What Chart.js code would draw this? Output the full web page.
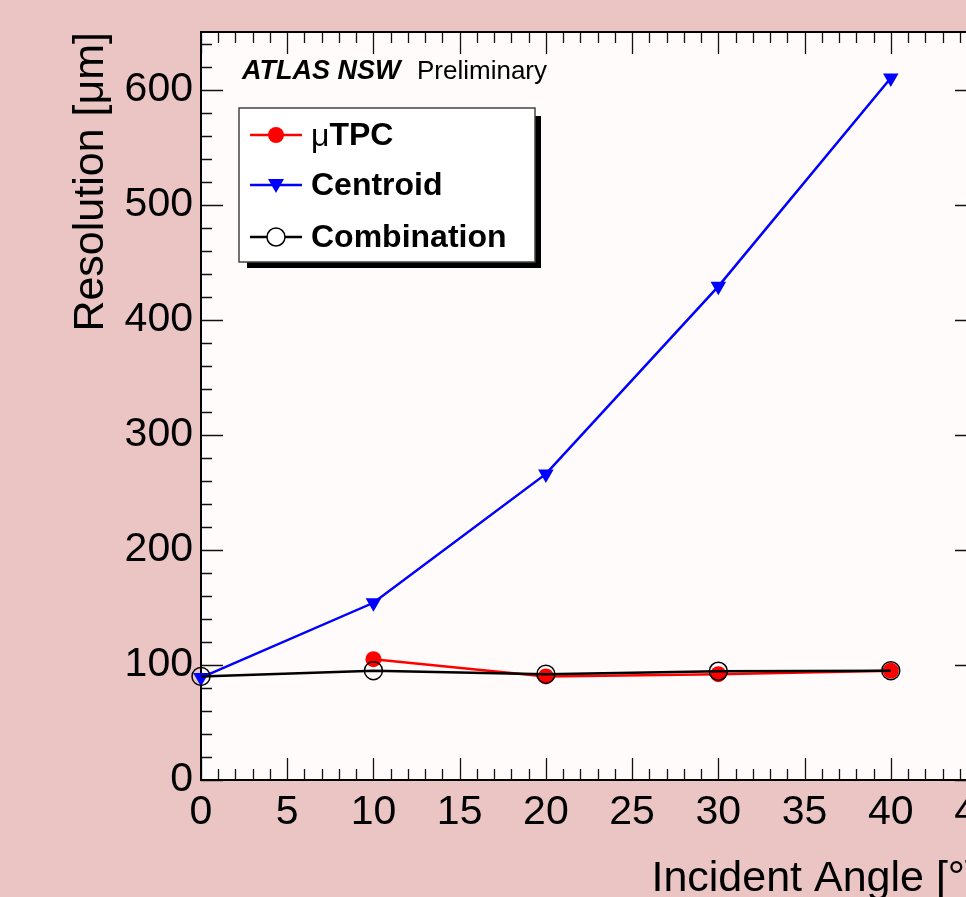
<!DOCTYPE html>
<html>
<head>
<meta charset="utf-8">
<script src="https://cdn.jsdelivr.net/npm/chart.js@4.4.1/dist/chart.umd.min.js"></script>
<style>
  html, body { margin: 0; padding: 0; overflow: hidden; background: #ebc4c4; }
  canvas { display: block; }
</style>
</head>
<body>
<canvas id="resolutionChart" width="1010" height="935"></canvas>
<script>
// values
var angles = [0, 10, 20, 30, 40];
var utpc = [null, 105, 90, 92, 95];
var centroid = [89, 154, 266, 429, 610];
var combination = [90, 95, 92, 94.5, 95];

var xTickStep = 5;
var yTickStep = 100;

function toPoints(values) {
    var pts = [];
    values.forEach(function (v, i) {
        if (v !== null) pts.push({ x: angles[i], y: v });
    });
    return pts;
}

var FONT = '"Liberation Sans", Arial, Helvetica, sans-serif';

function drawMarker(ctx, style, x, y) {
    ctx.save();
    if (style === 'circle') {
        ctx.fillStyle = '#ff0000';
        ctx.beginPath();
        ctx.arc(x, y, 8, 0, Math.PI * 2);
        ctx.fill();
    } else if (style === 'triangle') {
        ctx.fillStyle = '#0000ff';
        ctx.beginPath();
        ctx.moveTo(x - 8, y - 6);
        ctx.lineTo(x + 8, y - 6);
        ctx.lineTo(x, y + 8);
        ctx.closePath();
        ctx.fill();
    } else {
        ctx.fillStyle = '#fff';
        ctx.strokeStyle = '#000';
        ctx.lineWidth = 1.5;
        ctx.beginPath();
        ctx.arc(x, y, 9, 0, Math.PI * 2);
        ctx.fill();
        ctx.stroke();
    }
    ctx.restore();
}

var rootFrame = {
    id: 'rootFrame',
    beforeDraw: function (chart) {
        var ctx = chart.ctx, a = chart.chartArea;
        ctx.save();
        ctx.fillStyle = '#fffbfb';
        ctx.fillRect(a.left, a.top, a.right - a.left, a.bottom - a.top);
        ctx.restore();
    },
    beforeDatasetsDraw: function (chart) {
        var ctx = chart.ctx, a = chart.chartArea;
        var xs = chart.scales.x, ys = chart.scales.y;
        ctx.save();
        ctx.strokeStyle = '#111';
        ctx.lineWidth = 1.3;
        ctx.beginPath();
        // inner ticks on all four sides, like ROOT
        for (var v = xs.min; v <= xs.max; v += 1) {
            var px = Math.round(xs.getPixelForValue(v)) + 0.5;
            var len = v % xTickStep === 0 ? 22 : 11;
            ctx.moveTo(px, a.bottom); ctx.lineTo(px, a.bottom - len);
            ctx.moveTo(px, a.top); ctx.lineTo(px, a.top + len);
        }
        for (var w = ys.min; w <= ys.max; w += 20) {
            var py = Math.round(ys.getPixelForValue(w)) + 0.5;
            var l2 = w % yTickStep === 0 ? 22 : 11;
            ctx.moveTo(a.left, py); ctx.lineTo(a.left + l2, py);
            ctx.moveTo(a.right, py); ctx.lineTo(a.right - l2, py);
        }
        ctx.stroke();
        ctx.lineWidth = 2;
        ctx.strokeStyle = '#000';
        ctx.strokeRect(a.left, a.top, a.right - a.left, a.bottom - a.top);
        ctx.restore();
    },
    afterDatasetsDraw: function (chart) {
        var ctx = chart.ctx;
        ctx.save();
        // ATLAS label
        ctx.fillStyle = '#000';
        ctx.textBaseline = 'alphabetic';
        ctx.font = 'italic bold 27px ' + FONT;
        ctx.fillText('ATLAS NSW', 242, 79);
        ctx.font = '26px ' + FONT;
        ctx.fillText('Preliminary', 417, 79);

        // legend box with shadow
        ctx.fillStyle = '#000';
        ctx.fillRect(247, 116, 294, 152);
        ctx.fillStyle = '#fff';
        ctx.fillRect(239, 108, 296, 154);
        ctx.strokeStyle = '#444';
        ctx.lineWidth = 1.5;
        ctx.strokeRect(239, 108, 296, 154);

        var rows = [135, 185, 237];
        chart.data.datasets.forEach(function (ds, i) {
            var y = rows[i];
            ctx.strokeStyle = ds.borderColor;
            ctx.lineWidth = 2.5;
            ctx.beginPath();
            ctx.moveTo(250, y); ctx.lineTo(302, y);
            ctx.stroke();
            drawMarker(ctx, ds.markerKind, 276, y);
            ctx.fillStyle = '#000';
            ctx.textBaseline = 'middle';
            var x = 311;
            var txt = ds.label;
            if (txt.charAt(0) === 'μ') {
                ctx.font = '32px ' + FONT;
                ctx.fillText('μ', x, y + 2);
                x += ctx.measureText('μ').width;
                txt = txt.slice(1);
            }
            ctx.font = 'bold 32px ' + FONT;
            ctx.fillText(txt, x, y + 1);
        });
        ctx.restore();
    }
};

new Chart(document.getElementById('resolutionChart').getContext('2d'), {
    type: 'line',
    data: {
        datasets: [{
            label: 'μTPC',
            markerKind: 'circle',
            data: toPoints(utpc),
            borderColor: '#ff0000',
            backgroundColor: '#ff0000',
            borderWidth: 2.5,
            pointStyle: 'circle',
            pointRadius: 8,
            pointBorderWidth: 0,
            clip: false,
            order: 3
        }, {
            label: 'Centroid',
            markerKind: 'triangle',
            data: toPoints(centroid),
            borderColor: '#0000ff',
            backgroundColor: '#0000ff',
            borderWidth: 2.5,
            pointStyle: 'triangle',
            pointRotation: 180,
            pointRadius: 9,
            pointBorderWidth: 0,
            clip: false,
            order: 2
        }, {
            label: 'Combination',
            markerKind: 'open',
            data: toPoints(combination),
            borderColor: '#000000',
            backgroundColor: 'rgba(255,255,255,0)',
            borderWidth: 2.5,
            pointStyle: 'circle',
            pointRadius: 9,
            pointBorderWidth: 1.5,
            pointBorderColor: '#000',
            clip: false,
            order: 1
        }]
    },
    options: {
        responsive: false,
        animation: false,
        devicePixelRatio: 1,
        layout: { padding: { left: 0, top: 32, right: 33, bottom: 0 } },
        plugins: {
            legend: { display: false },
            tooltip: { enabled: false }
        },
        elements: { line: { tension: 0 } },
        scales: {
            x: {
                type: 'linear',
                min: 0,
                max: 45,
                grid: { display: false },
                border: { display: false },
                ticks: {
                    stepSize: xTickStep,
                    autoSkip: false,
                    maxRotation: 0,
                    includeBounds: false,
                    padding: 0,
                    color: '#000',
                    font: { family: FONT, size: 41 }
                },
                title: {
                    display: true,
                    text: 'Incident Angle [°]',
                    align: 'end',
                    color: '#000',
                    padding: { top: 0, bottom: 34 },
                    font: { family: FONT, size: 43, lineHeight: 1 }
                },
                afterFit: function (scale) { scale.height = 155; }
            },
            y: {
                min: 0,
                max: 650,
                grid: { display: false },
                border: { display: false },
                ticks: {
                    stepSize: yTickStep,
                    includeBounds: false,
                    padding: 0,
                    color: '#000',
                    font: { family: FONT, size: 41 }
                },
                title: {
                    display: true,
                    text: 'Resolution [μm]',
                    align: 'end',
                    color: '#000',
                    padding: { top: 70, bottom: 0 },
                    font: { family: FONT, size: 43, lineHeight: 1 }
                },
                afterFit: function (scale) { scale.width = 201; }
            }
        }
    },
    plugins: [rootFrame]
});
</script>
</body>
</html>
